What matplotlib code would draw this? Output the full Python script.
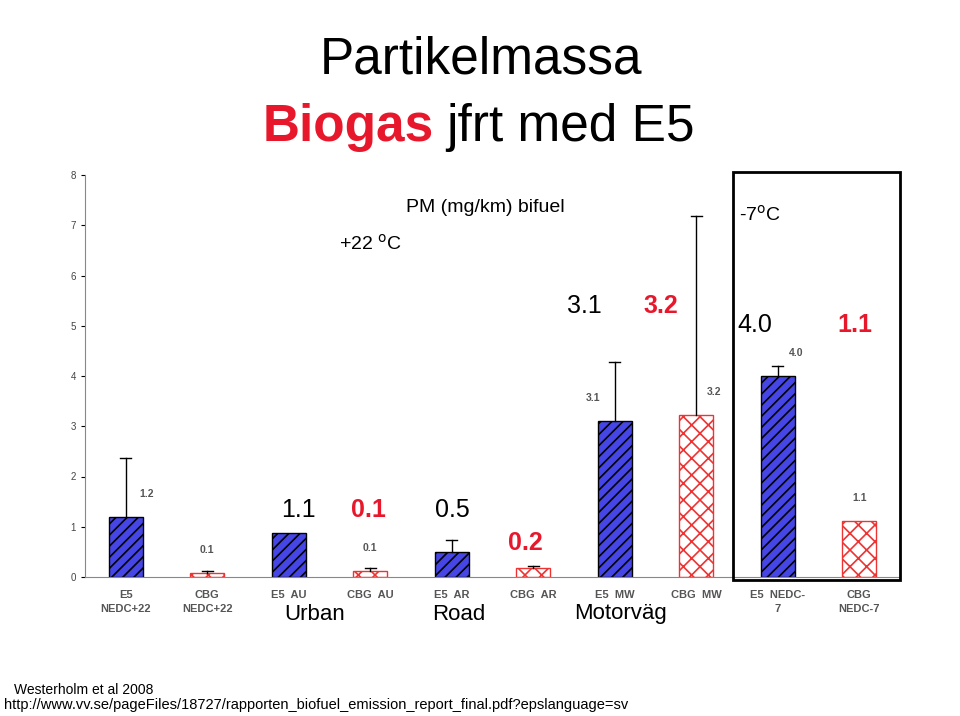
import matplotlib
matplotlib.use("Agg")
import matplotlib.pyplot as plt
from matplotlib.patches import Rectangle

plt.rcParams["font.family"] = "Liberation Sans"
plt.rcParams["hatch.linewidth"] = 1.2

categories = ["E5\nNEDC+22", "CBG\nNEDC+22", "E5  AU", "CBG  AU", "E5  AR", "CBG  AR",
              "E5  MW", "CBG  MW", "E5  NEDC-\n7", "CBG\nNEDC-7"]
values = [1.2, 0.07, 0.88, 0.12, 0.5, 0.18, 3.1, 3.22, 4.0, 1.12]
err_top = [2.37, 0.12, 0.88, 0.18, 0.74, 0.22, 4.28, 7.18, 4.2, 1.12]
value_labels = ["1.2", "0.1", "", "0.1", "", "", "3.1", "3.2", "4.0", "1.1"]
yticks = [0, 1, 2, 3, 4, 5, 6, 7, 8]

label_dx = [0.25, 0, 0, 0, 0, 0, -0.27, 0.22, 0.23, 0]

W, H = 960, 716
fig = plt.figure(figsize=(9.6, 7.16), dpi=100)
ax = fig.add_axes([85/W, (H-577)/H, 815/W, (577-175)/H])
x = list(range(len(values)))
for i, v in enumerate(values):
    if i % 2 == 0:
        ax.bar(i, v, 0.42, facecolor="#4646e6", edgecolor="black", hatch="///", lw=1)
    else:
        ax.bar(i, v, 0.42, facecolor="white", edgecolor="#ee3333", hatch="xx", lw=1)
    if err_top[i] > v:
        ax.plot([i, i], [v, err_top[i]], color="black", lw=1)
        ax.plot([i-0.07, i+0.07], [err_top[i]]*2, color="black", lw=1)
    if value_labels[i]:
        ax.text(i+label_dx[i], v+0.4, value_labels[i], fontsize=7.5,
                color="#555555", ha="center", fontweight="bold")
ax.set_xlim(-0.5, 9.5)
ax.set_ylim(0, 8)
ax.set_yticks(yticks)
ax.tick_params(axis="y", labelsize=7, length=3, labelcolor="#444444")
ax.set_xticks(x)
ax.set_xticklabels(categories, fontsize=8, color="#555555", fontweight="bold", linespacing=1.5)
ax.tick_params(axis="x", length=0, pad=9)
for s in ["top", "right"]:
    ax.spines[s].set_visible(False)
ax.spines["left"].set_color("#888888")
ax.spines["bottom"].set_color("#888888")

fig.patches.append(Rectangle((733/W, (H-580)/H), 167/W, 408/H, transform=fig.transFigure,
                             fill=False, edgecolor="black", lw=2))

def t(px, py, s, **kw):
    fig.text(px/W, 1-py/H, s, **kw)

t(481, 60, "Partikelmassa", fontsize=37, ha="center", va="center")
t(434, 127, "Biogas", fontsize=37, ha="right", va="center", color="#e8182c", fontweight="bold")
t(446, 127, "jfrt med E5", fontsize=37, ha="left", va="center")
t(485, 207, "PM (mg/km) bifuel", fontsize=14, ha="center", va="center")
t(370, 244, "+22 $^{\\mathrm{o}}$C", fontsize=14, ha="center", va="center")
t(760, 215, "-7$^{\\mathrm{o}}$C", fontsize=14, ha="center", va="center")
big = dict(fontsize=18, ha="center", va="center")
t(584, 306, "3.1", **big)
t(661, 306, "3.2", color="#e8182c", fontweight="bold", **big)
t(755, 325, "4.0", **big)
t(855, 325, "1.1", color="#e8182c", fontweight="bold", **big)
t(298, 510, "1.1", **big)
t(368, 510, "0.1", color="#e8182c", fontweight="bold", **big)
t(452, 510, "0.5", **big)
t(525, 543, "0.2", color="#e8182c", fontweight="bold", **big)
mid = dict(fontsize=16, ha="center", va="center")
t(315, 614, "Urban", **mid)
t(459, 614, "Road", **mid)
t(620, 614, "Motorväg", **mid)
t(14, 690, "Westerholm et al 2008", fontsize=10, va="center")
t(4, 705, "http://www.vv.se/pageFiles/18727/rapporten_biofuel_emission_report_final.pdf?epslanguage=sv",
  fontsize=10.5, va="center")
fig.savefig("out.png", dpi=100)
